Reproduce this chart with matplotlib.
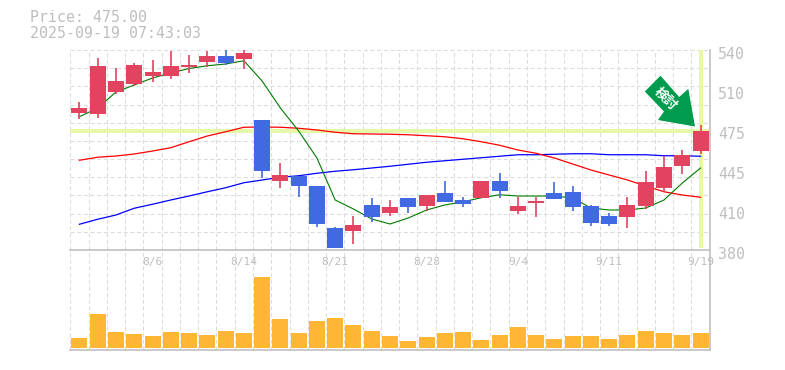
import matplotlib
matplotlib.use("Agg")
import matplotlib.pyplot as plt
from matplotlib.patches import Polygon
from matplotlib.transforms import ScaledTranslation

# --- candles, 35 trading days ---
opens = [489.6, 488.8, 506.4, 512.8, 519.2, 519.2, 526.4, 530.4, 535.2, 532.8,
         484.0, 435.2, 439.2, 431.2, 397.6, 395.2, 416.0, 409.6, 421.6, 415.2,
         425.6, 420.0, 421.6, 435.2, 411.2, 417.6, 425.6, 426.4, 415.2, 407.2,
         406.4, 415.2, 429.6, 447.2, 459.2]
closes = [493.6, 527.2, 515.2, 528.0, 522.4, 527.2, 528.0, 535.2, 529.6, 537.6,
          443.2, 440.0, 431.2, 400.8, 381.6, 400.0, 406.4, 414.4, 414.4, 424.0,
          418.4, 416.8, 435.2, 427.2, 415.2, 419.2, 420.8, 414.4, 401.6, 400.8,
          416.0, 434.4, 446.4, 456.0, 475.0]
highs = [498.4, 533.6, 525.6, 529.6, 532.0, 539.2, 536.0, 539.2, 540.0, 540.0,
         484.0, 449.6, 439.2, 431.2, 398.4, 407.2, 421.6, 420.0, 421.6, 424.0,
         435.2, 422.4, 435.2, 441.6, 422.4, 422.4, 434.4, 431.2, 416.0, 409.6,
         422.4, 443.2, 455.2, 460.0, 480.0]
lows = [484.8, 485.6, 504.8, 511.2, 514.4, 516.8, 521.6, 526.4, 528.0, 524.8,
        437.6, 429.6, 422.4, 398.4, 381.6, 384.8, 402.4, 407.2, 409.6, 411.2,
        418.4, 414.4, 421.6, 421.6, 408.8, 406.4, 420.8, 411.2, 399.2, 399.2,
        397.6, 412.8, 426.4, 440.8, 456.8]

# --- moving averages ---
ma_short = [486.6, 493.6, 506.4, 512.0, 517.6, 521.6, 525.2, 527.4, 528.8, 531.4,
            515.2, 493.6, 475.2, 453.6, 420.0, 412.8, 404.8, 400.8, 405.6, 412.0,
            416.0, 418.6, 421.8, 424.2, 423.2, 423.2, 423.2, 421.6, 413.6, 412.0,
            412.0, 413.6, 420.0, 433.6, 445.6]
ma_mid = [451.8, 454.2, 455.2, 456.8, 459.2, 461.8, 466.6, 471.2, 474.6, 478.2,
          478.4, 478.2, 477.4, 476.0, 474.2, 473.0, 472.8, 472.6, 472.2, 471.4,
          470.6, 469.0, 466.6, 463.8, 460.0, 457.4, 453.6, 448.8, 444.0, 440.0,
          436.0, 431.2, 426.6, 424.0, 422.2]
ma_long = [400.6, 404.6, 408.0, 413.4, 416.6, 420.0, 423.2, 426.6, 429.8, 433.8,
           436.0, 438.2, 439.4, 441.4, 443.0, 444.2, 445.6, 447.0, 448.6, 450.2,
           451.4, 452.6, 453.8, 455.0, 456.2, 456.2, 456.6, 457.0, 457.0, 456.2,
           456.2, 456.2, 455.4, 455.4, 455.0]

volumes = [9700, 33700, 15700, 13700, 11700, 15700, 14700, 12700, 16700, 14700,
           70700, 28700, 14700, 26700, 29700, 22700, 16700, 11700, 6700, 10700,
           14700, 15700, 7700, 12700, 20700, 12700, 8700, 11700, 11700, 8700,
           12700, 16700, 14700, 12700, 14700]

price_ticks = [540, 508, 476, 444, 412, 380]
price_labels = ["540", "510", "475", "445", "410", "380"]
date_index = [4, 9, 14, 19, 24, 29, 34]
date_labels = ["8/6", "8/14", "8/21", "8/28", "9/4", "9/11", "9/19"]
last_price = 475.0
title_lines = ["Price: 475.00", "2025-09-19 07:43:03"]
badge_text = "検討"

GRID = "#dcdcdc"
DASH = (0, (3.6, 2.4))
FRAME = "#c0c0c0"
TEXT = "#bebebe"
UP = "#e2435f"
DOWN = "#4169e1"
VOL = "#ffb733"
LIME = "#e6f7a8"
MONO = "DejaVu Sans Mono"

W, H = 785, 370
fig = plt.figure(figsize=(W / 100, H / 100), dpi=100)
x0, x1 = 70.3, 709.7
ax = fig.add_axes([x0 / W, (H - 250) / H, (x1 - x0) / W, 200 / H])
ax_vol = fig.add_axes([x0 / W, (H - 350) / H, (x1 - x0) / W, 100 / H], sharex=ax)

n = len(opens)
xs = [i + 0.5 for i in range(n)]

# ─── grid on both panels ───
for a in (ax, ax_vol):
    a.set_xlim(0, n)
    a.set_xticks(range(n + 1))
    a.tick_params(length=0, labelbottom=False)
    a.grid(True, axis="x", color=GRID, linestyle=DASH, linewidth=0.8)
    a.set_axisbelow(True)
    for s in a.spines.values():
        s.set_visible(False)
    a.spines["right"].set_visible(True)
    a.spines["right"].set_color(FRAME)
    a.spines["right"].set_linewidth(1.2)

# ─── price panel ───
ax.set_ylim(380, 540)
ax.set_yticks(price_ticks, price_labels)
ax.yaxis.tick_right()
ax.tick_params(axis="y", length=0, pad=6, labelsize=10.7, labelcolor=TEXT)
shift = ScaledTranslation(0, -3 / 100, fig.dpi_scale_trans)
for lab in ax.get_yticklabels():
    lab.set_fontfamily(MONO)
    lab.set_transform(lab.get_transform() + shift)

# 12 horizontal dashed lines, 11 even gaps
for i in range(12):
    ax.axhline(540 - i * 160 / 11, color=GRID, linestyle=DASH,
               linewidth=0.8, zorder=0.5, clip_on=False)

ax.axhline(last_price, color=LIME, linewidth=2.9, zorder=1)
ax.vlines(xs[-1], 381.5, 540, color=LIME, linewidth=2.9, zorder=1)

ax.plot(xs, ma_long, color="#0000ff", linewidth=0.9, zorder=2)
ax.plot(xs, ma_mid, color="#ff0000", linewidth=0.9, zorder=2)
ax.plot(xs, ma_short, color="#007a00", linewidth=0.8, zorder=2)

colors = [UP if c >= o else DOWN for o, c in zip(opens, closes)]
ax.vlines(xs, lows, highs, color=colors, linewidth=1.2, zorder=3)
ax.bar(xs, [c - o for o, c in zip(opens, closes)], bottom=opens, width=0.876,
       color=colors, linewidth=0, zorder=4)

# ─── volume panel ───
ax_vol.set_ylim(-2300, 97700)
ax_vol.set_yticks([])
ax_vol.bar(xs, volumes, width=0.876, color=VOL, linewidth=0, zorder=3)
for side in ("top", "bottom"):
    ax_vol.spines[side].set_visible(True)
    ax_vol.spines[side].set_color(FRAME)
    ax_vol.spines[side].set_linewidth(1.2)
for i, label in zip(date_index, date_labels):
    ax_vol.text(xs[i], 0.88, label, transform=ax_vol.get_xaxis_transform(),
                ha="center", va="center", fontsize=8, family=MONO, color=TEXT, zorder=4)

# ─── overlay in pixel coords for header and arrow badge ───
over = fig.add_axes([0, 0, 1, 1])
over.set_xlim(0, W)
over.set_ylim(H, 0)
over.axis("off")
over.patch.set_alpha(0)
over.text(30, 18, title_lines[0], fontsize=10.7, family=MONO, color=TEXT, va="center")
over.text(30, 33, title_lines[1], fontsize=10.7, family=MONO, color=TEXT, va="center")
arrow = [(660.5, 75.7), (644.8, 91.5), (664, 111.5), (658, 120), (695, 126.5),
         (688.3, 88.8), (679.2, 97)]
over.add_patch(Polygon(arrow, closed=True, facecolor="#009b4c", edgecolor="none"))
over.text(666, 99, badge_text, rotation=-45, rotation_mode="anchor", ha="center", va="center",
          fontsize=9.5, fontweight="bold", color="white",
          family=["Noto Sans CJK JP", "DejaVu Sans"])

fig.savefig("out.png", dpi=100, facecolor="white")
